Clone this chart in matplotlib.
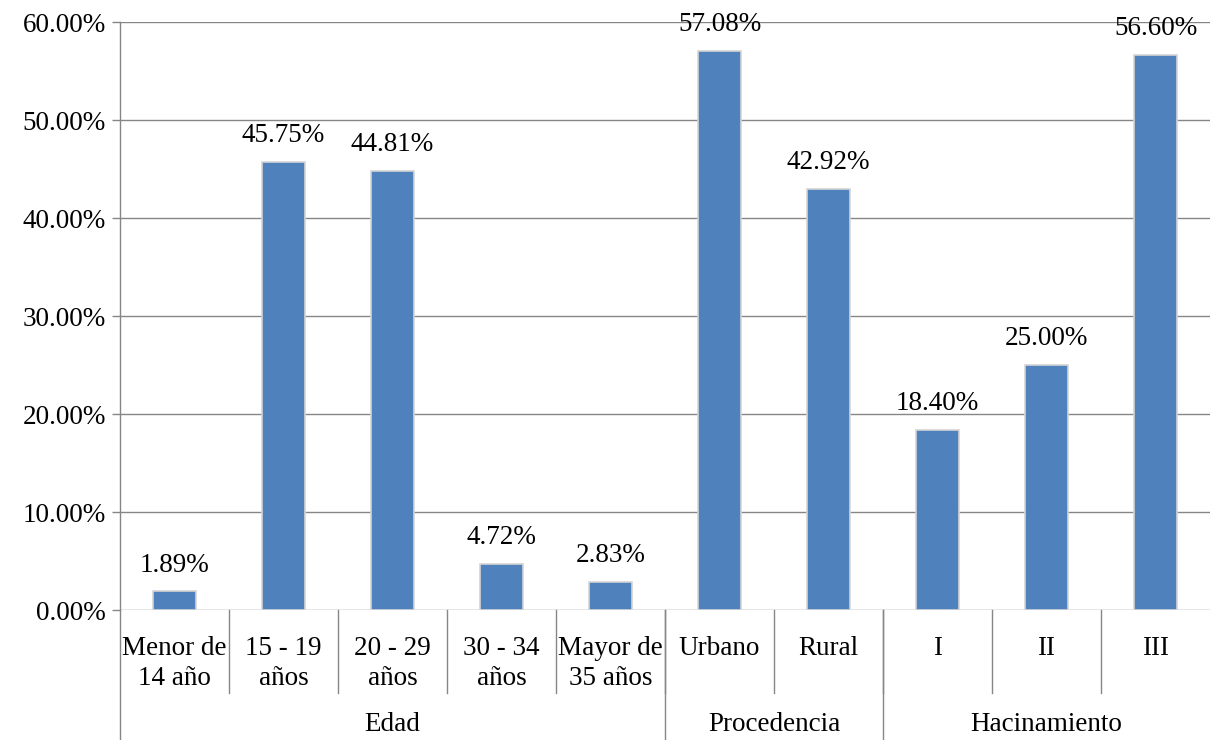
import matplotlib.pyplot as plt
import matplotlib.transforms as mtransforms
from matplotlib.ticker import FuncFormatter

plt.rcParams['font.family'] = ['Liberation Serif', 'DejaVu Serif']

categorias = ['Menor de\n14 año', '15 - 19\naños', '20 - 29\naños', '30 - 34\naños',
              'Mayor de\n35 años', 'Urbano', 'Rural', 'I', 'II', 'III']
porcentajes = [1.89, 45.75, 44.81, 4.72, 2.83, 57.08, 42.92, 18.40, 25.00, 56.60]
grupos = ['Edad', 'Procedencia', 'Hacinamiento']
grupo_tamanos = [5, 2, 3]

fs = 19.5
azul = '#4F81BD'
gris = '#868686'

fig = plt.figure(figsize=(12.1, 7.4), dpi=100)
ax = fig.add_axes([120 / 1210, 1 - 610 / 740, 1090 / 1210, 588 / 740])

x = list(range(len(categorias)))
ax.bar(x, porcentajes, width=0.4, color=azul, edgecolor='#d4d4d4', linewidth=1.2, zorder=3)

for xi, v in zip(x, porcentajes):
    ax.annotate(f'{v:.2f}%', (xi, v), xytext=(0, 10), textcoords='offset points',
                ha='center', va='bottom', fontsize=fs, zorder=4)

ax.set_xlim(-0.5, len(categorias) - 0.5)
ax.set_ylim(0, 60)
ax.set_yticks(range(0, 61, 10))
ax.yaxis.set_major_formatter(FuncFormatter(lambda v, p: f'{v:.2f}%'))
ax.tick_params(axis='y', labelsize=fs, length=6, width=1, color=gris, direction='out', pad=4)
ax.grid(axis='y', color=gris, linewidth=1, zorder=0)
ax.set_xticks([])

for s in ['top', 'right', 'bottom']:
    ax.spines[s].set_visible(False)
ax.spines['left'].set_color(gris)
ax.spines['left'].set_linewidth(1)

# eje de categorias en dos niveles
trans = mtransforms.blended_transform_factory(ax.transData, ax.transAxes)
for xi, lab in zip(x, categorias):
    ax.text(xi, -0.045, lab, transform=trans, ha='center', va='top', fontsize=fs,
            linespacing=1.25)

# separadores cortos entre categorias
for b in range(1, len(categorias)):
    ax.plot([b - 0.5, b - 0.5], [0, -0.141], transform=trans, color=gris, lw=1, clip_on=False)

# separadores largos entre grupos y etiquetas de grupo
inicio = 0
bordes = [-0.5]
for g, n in zip(grupos, grupo_tamanos):
    centro = inicio + (n - 1) / 2
    ax.text(centro, -0.195, g, transform=trans, ha='center', va='center', fontsize=fs)
    inicio += n
    bordes.append(inicio - 0.5)
for b in bordes[:-1]:
    ax.plot([b, b], [0, -0.23], transform=trans, color=gris, lw=1, clip_on=False)

fig.savefig('out.png', dpi=100)
